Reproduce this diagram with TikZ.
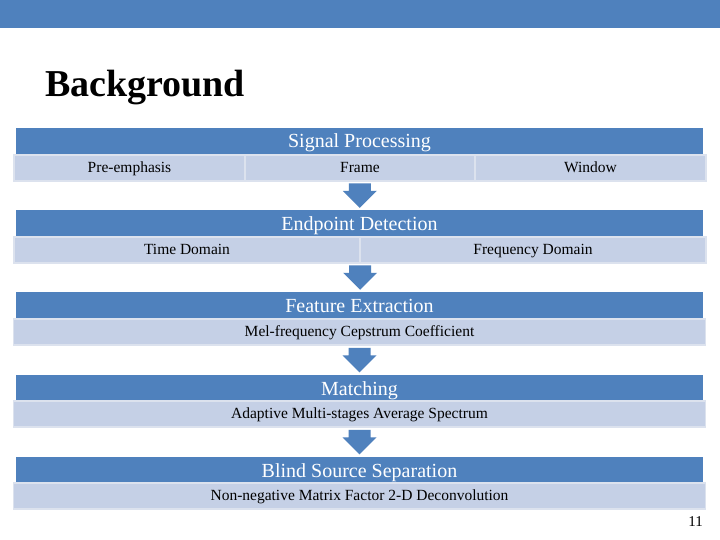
\documentclass[tikz,border=0pt]{standalone}
\usepackage{fontspec}
\setmainfont{Liberation Serif}
\usetikzlibrary{calc}
\definecolor{barblue}{HTML}{4F81BD}
\definecolor{cellfill}{HTML}{C5D0E6}
\definecolor{cellline}{HTML}{DCE2EE}
\tikzset{
  hdr/.style={fill=barblue, text=white, inner sep=0pt, minimum width=687pt, minimum height=26pt, text height=16pt, text depth=2pt, font=\fontsize{20}{22}\selectfont},
  cell/.style={fill=cellfill, draw=cellline, line width=1.6pt, inner sep=0pt, minimum height=26pt, text height=11.5pt, text depth=2pt, font=\fontsize{15.5}{17}\selectfont},
  flowarrow/.style={fill=barblue},
}
\newcommand{\downarr}[3]{%
  \coordinate (#3) at ($(#1)!0.5!(#2)$);
  \fill[flowarrow] ($(#3)+(-11,-12.5)$) -- ($(#3)+(11,-12.5)$) -- ($(#3)+(11,-5)$) -- ($(#3)+(17,-5)$)
    -- ($(#3)+(0,12)$) -- ($(#3)+(-17,-5)$) -- ($(#3)+(-11,-5)$) -- cycle;
}
\begin{document}
\begin{tikzpicture}[x=1pt,y=-1pt]
\useasboundingbox (0,0) rectangle (720,540);
\fill[white] (0,0) rectangle (720,540);
\node[fill=barblue, inner sep=0pt, minimum width=720pt, minimum height=28pt, anchor=north west] (topbar) at (0,0) {};
\node[anchor=base west, inner sep=0pt, font=\fontsize{38}{41}\selectfont\bfseries] (title) at (45,97) {Background};
% Signal Processing
\node[hdr] (sp) at (359.5,141) {Signal Processing};
\node[cell, minimum width=231pt] (sp1) at (129.5,168) {Pre-emphasis};
\node[cell, minimum width=230pt] (sp2) at (360,168) {Frame};
\node[cell, minimum width=231pt] (sp3) at (590.5,168) {Window};
% Endpoint Detection
\node[hdr] (ed) at (359.5,223) {Endpoint Detection};
\node[cell, minimum width=346pt] (ed1) at (187,250) {Time Domain};
\node[cell, minimum width=346pt] (ed2) at (533,250) {Frequency Domain};
% Feature Extraction
\node[hdr] (fe) at (359.5,305) {Feature Extraction};
\node[cell, minimum width=692pt] (fe1) at (359.5,332) {Mel-frequency Cepstrum Coefficient};
% Matching
\node[hdr] (ma) at (359.5,388) {Matching};
\node[cell, minimum width=692pt] (ma1) at (359.5,414) {Adaptive Multi-stages Average Spectrum};
% Blind Source Separation
\node[hdr] (bs) at (359.5,470) {Blind Source Separation};
\node[cell, minimum width=692pt] (bs1) at (359.5,496) {Non-negative Matrix Factor 2-D Deconvolution};
% arrows
\downarr{sp2.south}{ed.north}{a1}
\downarr{ed1.south east}{fe.north}{a2}
\downarr{fe1.south}{ma.north}{a3}
\downarr{ma1.south}{bs.north}{a4}
\node[anchor=base east, inner sep=0pt, font=\fontsize{15}{17}\selectfont] (pg) at (703,526) {11};
\end{tikzpicture}
\end{document}
